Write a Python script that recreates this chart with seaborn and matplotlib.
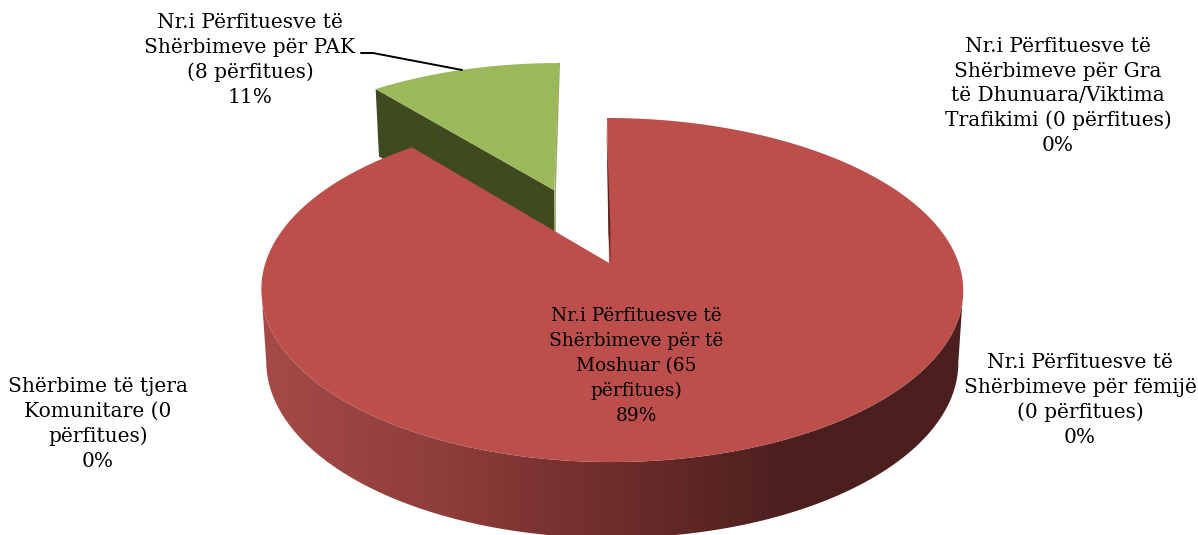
import numpy as np
import matplotlib
matplotlib.use("Agg")
import matplotlib.pyplot as plt
from matplotlib.patches import Polygon
import seaborn as sns

# Data
values = [65, 8, 0, 0, 0]
labels = [
    "Nr.i Përfituesve të\nShërbimeve për të\nMoshuar (65\npërfitues)",
    "Nr.i Përfituesve të\nShërbimeve për PAK\n(8 përfitues)",
    "Nr.i Përfituesve të\nShërbimeve për Gra\ntë Dhunuara/Viktima\nTrafikimi (0 përfitues)",
    "Nr.i Përfituesve të\nShërbimeve për fëmijë\n(0 përfitues)",
    "Shërbime të tjera\nKomunitare (0\npërfitues)",
]
label_pos = [(636, 366), (250, 60), (1058, 96), (1080, 400), (98, 424)]
label_size = [13.4, 14.5, 14.5, 14.5, 14.5]

red_top = "#BC4F4C"
green_top = "#9BB95A"
green_wall = "#404A21"
wall_stops = ["#A54A47", "#8F3E3B", "#6E2D2B", "#4C1F1F", "#4C1F1F"]

sns.set_theme(style="white")
plt.rcParams["font.family"] = ["DejaVu Serif"]

fig = plt.figure(figsize=(11.98, 5.35), dpi=100)
ax = fig.add_axes([0, 0, 1, 1])
ax.axis("off")

# perspective of the pie: disc coordinates (u, v) to picture pixels
PERSP = 0.157
def top_face(u, v):
    d = 1 + PERSP * v
    return 609 + (346.6 * u - 2.3 * v) / d + 3 * u ** 2, 263 - 167.8 * v / d

def lower_face(u, v):
    x, y = top_face(u, v)
    return 612 + (x - 612) * 0.986, 362 + (y - 290) * 1.023

def arc(start, stop, n=300):
    # angles are clockwise from the top of the pie
    a = np.radians(np.linspace(start, stop, n))
    return np.sin(a), np.cos(a)

total = sum(values)
sweep = [v / total * 360 for v in values]

# green slice is pulled out along its middle angle
g_start, g_stop = sweep[0], sweep[0] + sweep[1]
mid = np.radians((g_start + g_stop) / 2)
ou, ov = 0.495 * np.sin(mid), 0.495 * np.cos(mid)
u, v = arc(g_start, g_stop)
gu = np.concatenate([[ou], u + ou])
gv = np.concatenate([[ov], v + ov])

# green inner wall
lx, ly = top_face(gu[1], gv[1])
apx, apy = top_face(ou, ov)
bx, by = lower_face(gu[1], gv[1])
cx, cy = lower_face(ou, ov)
ax.add_patch(Polygon([(lx, ly), (apx, apy), (cx, cy), (bx, by)], fc=green_wall, ec="none", zorder=1))
tx, ty = top_face(gu[-1], gv[-1])
ax.plot([tx, apx + 1, apx + 1], [ty, apy, apy + 44], color="#8EA65A", lw=1, zorder=1)
gx, gy = top_face(gu, gv)
ax.add_patch(Polygon(np.column_stack([gx, gy]), fc=green_top, ec="none", zorder=2))

# red slice
u, v = arc(0, sweep[0], 600)
rx, ry = top_face(u, v)
ox, oy = top_face(0, 0)

# outer wall with the left to right shading, between the widest points of the rim
side = np.degrees(np.arccos(-PERSP))
wu, wv = arc(side, 360 - side)
tx_, ty_ = top_face(wu, wv)
bx_, by_ = lower_face(wu, wv)
wall = Polygon(np.vstack([np.column_stack([tx_, ty_]), np.column_stack([bx_, by_])[::-1]]),
               fc="none", ec="none", transform=ax.transData)
ax.add_patch(wall)
cmap = sns.blend_palette(wall_stops, n_colors=256, as_cmap=True)
img = ax.imshow(np.linspace(0, 1, 256).reshape(1, -1), cmap=cmap, aspect="auto",
                extent=[262, 963, 545, 250], interpolation="bilinear", zorder=3)
img.set_clip_path(wall)

ax.add_patch(Polygon(np.column_stack([np.r_[ox, rx], np.r_[oy, ry]]), fc=red_top, ec="none", zorder=4))
# thin dark sliver on the notch edge
sx, sy = top_face(0, 1)
ax.add_patch(Polygon([(sx - 0.5, sy + 8), (ox + 1.2, oy - 40), (ox + 1.5, oy), (ox - 0.6, oy - 30)],
                     fc="#5A2322", ec="none", zorder=5))

# leader line of the PAK label
ax.plot([361, 373, 462], [53, 53, 70], color="black", lw=1.4, zorder=6)

# line pitch is the same 25 px for every label
for name, val, (x, y), size in zip(labels, values, label_pos, label_size):
    pct = round(val / total * 100)
    ax.text(x, y, f"{name}\n{pct}%", ha="center", va="center", ma="center",
            fontsize=size, linespacing=1.37 * 14.5 / size, color="black", zorder=7)

ax.set_xlim(0, 1198)
ax.set_ylim(535, 0)
fig.savefig("out.png", dpi=100, facecolor="white")
